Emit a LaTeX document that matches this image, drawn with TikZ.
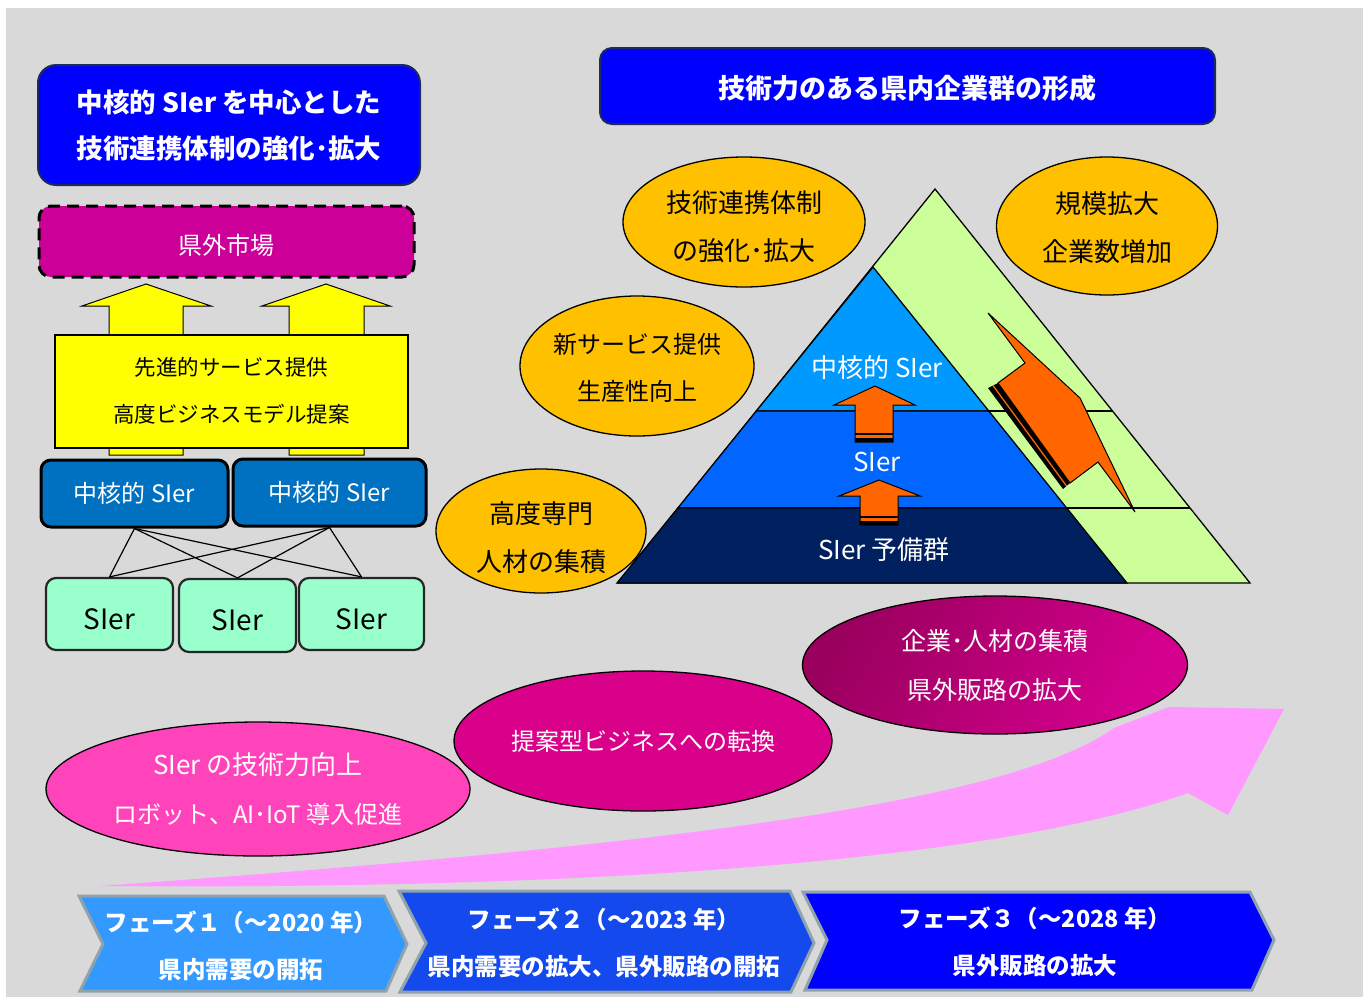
\documentclass[tikz,border=0pt]{standalone}
\usepackage{fontspec}
\setmainfont{Noto Sans CJK JP}
\usetikzlibrary{shapes.geometric,calc}
\definecolor{bg}{HTML}{D9D9D9}
\definecolor{tblue}{HTML}{0000FF}
\definecolor{tborder}{HTML}{1F2A5C}
\definecolor{mkt}{HTML}{CC0099}
\definecolor{yel}{HTML}{FFFF00}
\definecolor{core}{HTML}{0070C0}
\definecolor{mint}{HTML}{99FFCC}
\definecolor{gold}{HTML}{FFC000}
\definecolor{lgreen}{HTML}{CCFF99}
\definecolor{pyr1}{HTML}{0099FF}
\definecolor{pyr2}{HTML}{0066FF}
\definecolor{pyr3}{HTML}{002060}
\definecolor{orng}{HTML}{FF6600}
\definecolor{mag1a}{HTML}{9A005E}
\definecolor{mag1b}{HTML}{D6008F}
\definecolor{mag2}{HTML}{D9008A}
\definecolor{mag3}{HTML}{FF44BB}
\definecolor{pinkarrow}{HTML}{FF99FF}
\definecolor{ch1}{HTML}{3399FF}
\definecolor{ch2}{HTML}{1449ED}
\definecolor{ch3}{HTML}{0000FF}
\definecolor{chb}{HTML}{8FA3AD}
\newcommand\myfs[2]{\fontsize{#1}{#2}\selectfont}
\begin{document}
\begin{tikzpicture}[x=1pt,y=-1pt,
  titlebox/.style={draw=tborder,line width=2pt,fill=tblue,rounded corners=18pt,inner sep=0pt,text=white,align=center},
  corebox/.style={draw=black,line width=3pt,fill=core,rounded corners=10pt,inner sep=0pt,text=white,font=\myfs{24}{28}},
  sierbox/.style={draw=black!85,line width=2.2pt,fill=mint,rounded corners=10pt,inner sep=0pt,font=\myfs{28}{32},text height=30pt,text depth=0pt},
  goldell/.style={ellipse,draw=black,line width=1.3pt,fill=gold,inner sep=0pt},
  goldtext/.style={inner sep=0pt,align=center,font=\myfs{26}{48}},
  magell/.style={ellipse,draw=black,line width=1.3pt,inner sep=0pt,align=center,text=white,font=\myfs{25}{49}},
  pyrtext/.style={text=white,inner sep=0pt,font=\myfs{26}{30}},
  chev/.style={draw=chb,line width=3pt,line join=miter},
  chevtext/.style={text=white,align=center,inner sep=0pt,font=\bfseries\myfs{23.5}{47}},
  yarrow/.style={draw=black,line width=1pt,fill=yel},
  oarrow/.style={draw=black,line width=1pt,fill=orng,line join=miter}
]
\useasboundingbox (0,0) rectangle (1368,997);
\fill[bg] (6,8) rectangle (1363,997);

% ---------- left part ----------
\node[titlebox,minimum width=382pt,minimum height=120pt,font=\bfseries\myfs{26.5}{46}] (t1) at (229,125)
  {中核的 SIer を中心とした\\技術連携体制の強化･拡大};

\draw[yarrow] (109,455) -- (109,306) -- (82,306) -- (146,284) -- (211,306) -- (183,306) -- (183,455) -- cycle;
\draw[yarrow] (289,455) -- (289,306) -- (262,306) -- (326,284) -- (390,306) -- (364,306) -- (364,455) -- cycle;

\node[draw=black,line width=3pt,dash pattern=on 12pt off 7pt,fill=mkt,rounded corners=12pt,
  minimum width=375pt,minimum height=71pt,inner sep=0pt,text=white,font=\myfs{24}{28},
  text height=26pt,text depth=0pt] (mkt) at (226.5,241.5) {県外市場};

\node[draw=black,line width=2pt,fill=yel,minimum width=353pt,minimum height=113pt,inner sep=0pt,
  align=center,font=\myfs{21.5}{47}] (adv) at (231.5,391) {先進的サービス提供\\高度ビジネスモデル提案};

\node[corebox,minimum width=187pt,minimum height=67pt] (c1) at (134.5,493.5) {中核的 SIer};
\node[corebox,minimum width=193pt,minimum height=67pt] (c2) at (329.5,492.5) {中核的 SIer};

\node[sierbox,minimum width=127pt,minimum height=72pt] (s1) at (109.5,614) {SIer};
\node[sierbox,minimum width=117pt,minimum height=73pt] (s2) at (237.5,615.5) {SIer};
\node[sierbox,minimum width=125pt,minimum height=72pt] (s3) at (361.5,614) {SIer};

\foreach \a in {c1,c2}{\foreach \b in {s1,s2,s3}{\draw[line width=1.2pt] (\a.south) -- (\b.north);}}

% ---------- right part ----------
\node[titlebox,minimum width=615pt,minimum height=76pt,rounded corners=12pt,font=\bfseries\myfs{27}{30},
  text height=25pt,text depth=0pt] (t2) at (907.5,86)
  {技術力のある県内企業群の形成};

% green triangle
\coordinate (gA) at (935,189);
\coordinate (gL) at (618,583);
\coordinate (gR) at (1250,583);
\draw[fill=lgreen,line width=1.3pt,line join=miter] (gA) -- (gL) -- (gR) -- cycle;
\draw[line width=1.3pt] (800,411) -- (1112.5,411);
\draw[line width=1.3pt] (700,508) -- (1190,508);

% blue pyramid
\coordinate (bA) at (873,267);
\coordinate (b1L) at (756.3,411);
\coordinate (b1R) at (988.8,411);
\coordinate (b2L) at (677.8,508);
\coordinate (b2R) at (1066.7,508);
\coordinate (bL) at (617,583);
\coordinate (bR) at (1127,583);
\draw[fill=pyr1,line width=1.3pt,line join=miter] (bA) -- (b1L) -- (b1R) -- cycle;
\draw[fill=pyr2,line width=1.3pt,line join=miter] (b1L) -- (b2L) -- (b2R) -- (b1R) -- cycle;
\draw[fill=pyr3,line width=1.3pt,line join=miter] (b2L) -- (bL) -- (bR) -- (b2R) -- cycle;

\node[pyrtext] (p1) at (877,368) {中核的 SIer};
\node[pyrtext] (p2) at (877,462) {SIer};
\node[pyrtext] (p3) at (884,550) {SIer 予備群};

% orange arrows in pyramid
\draw[oarrow] (855,442) -- (855,405) -- (834,405) -- (875,386) -- (915,405) -- (893,405) -- (893,442) -- cycle;
\fill[black] (855,438) rectangle (893,442);
\draw[line width=1.2pt] (855,434) -- (893,434);
\draw[oarrow] (860,525) -- (860,496) -- (839,496) -- (879,480) -- (920,496) -- (898,496) -- (898,525) -- cycle;
\fill[black] (860,521) rectangle (898,525);
\draw[line width=1.2pt] (860,517) -- (898,517);

% big diagonal arrow
\fill[black] (998,383) -- (988,388) -- (1063,489) -- (1070,483) -- cycle;
\draw[orng,line width=1.3pt] (993,385.5) -- (1066.5,486);
\draw[oarrow] (988,313) -- (1025,363) -- (998,383) -- (1070,483) -- (1098,462) -- (1135,512) -- (1080,398) -- cycle;

% gold ellipses
\node[goldell,minimum width=242pt,minimum height=130pt] (e1) at (744,222) {};
\node[goldtext] (e1t) at (744,227) {技術連携体制\\の強化･拡大};
\node[goldell,minimum width=221pt,minimum height=138pt] (e2) at (1107,226) {};
\node[goldtext] (e2t) at (1107,228) {規模拡大\\企業数増加};
\node[goldell,minimum width=234pt,minimum height=140pt] (e3) at (637,366) {};
\node[goldtext,font=\myfs{24}{47}] (e3t) at (637,367.5) {新サービス提供\\生産性向上};
\node[goldell,minimum width=210pt,minimum height=124pt] (e4) at (541,531) {};
\node[goldtext] (e4t) at (541,537.5) {高度専門\\人材の集積};

% pink curved arrow
\fill[pinkarrow] (100,886) .. controls (600,850) and (1000,810) .. (1114,728)
  -- (1169,707) -- (1284,709) -- (1228,815) -- (1188,793)
  .. controls (1000,860) and (600,890) .. (100,886) -- cycle;

% magenta ellipses
\node[magell,minimum width=385pt,minimum height=138pt,left color=mag1a,right color=mag1b,shading angle=60] (m1) at (995,665) {企業･人材の集積\\県外販路の拡大};
\node[magell,minimum width=378pt,minimum height=140pt,fill=mag2,font=\myfs{24}{49}] (m2) at (643,741) {提案型ビジネスへの転換};
\node[magell,minimum width=424pt,minimum height=134pt,fill=mag3,font=\myfs{24}{49}] (m3) at (258,789) {{\myfs{26}{49}SIer の技術力向上}\\ロボット、AI･IoT 導入促進};

% chevrons
\draw[chev,fill=ch1] (79,896) -- (384,896) -- (407,944) -- (386,991) -- (80,991) -- (103,944) -- cycle;
\draw[chev,fill=ch2] (399,891) -- (790,891) -- (814,943) -- (791,992) -- (400,992) -- (426,943) -- cycle;
\draw[chev,fill=ch3] (803,892) -- (1250,892) -- (1274,940) -- (1252,990) -- (805,990) -- (827,940) -- cycle;
\node[chevtext] (k1) at (241,946) {フェーズ１（～2020 年）\\県内需要の開拓};
\node[chevtext] (k2) at (604,943) {フェーズ２（～2023 年）\\県内需要の拡大、県外販路の開拓};
\node[chevtext] (k3) at (1035,942) {フェーズ３（～2028 年）\\県外販路の拡大};
\end{tikzpicture}
\end{document}
